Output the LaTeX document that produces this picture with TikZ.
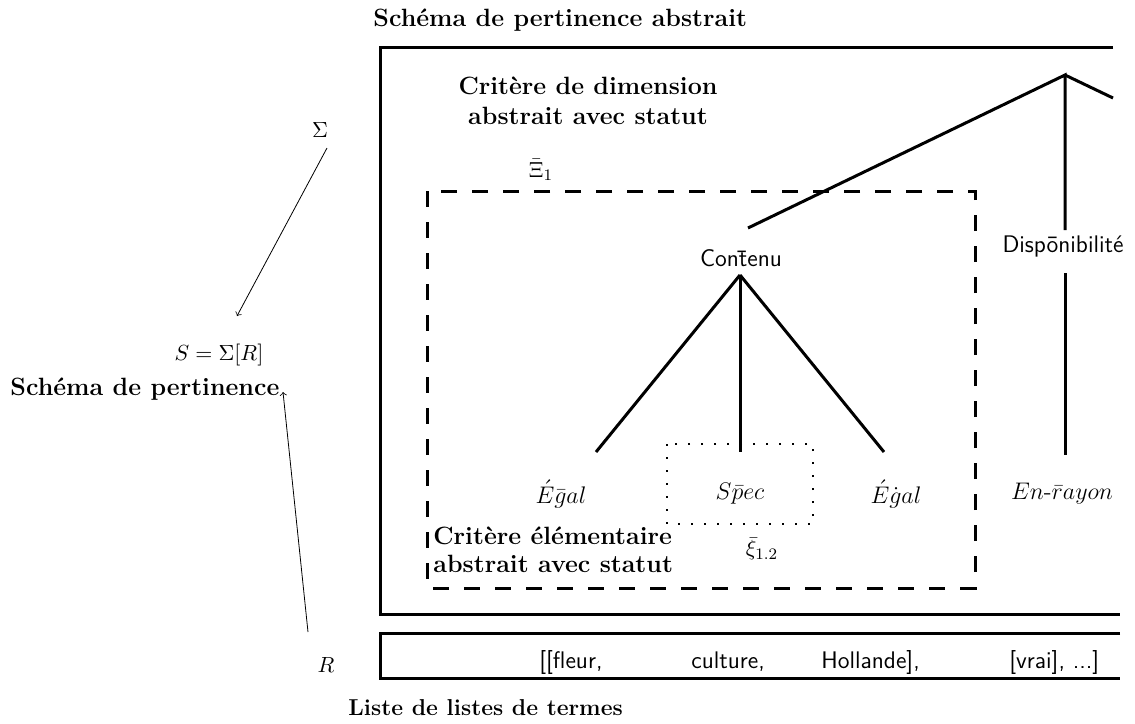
\documentclass[tikz,border=0pt]{standalone}
\usepackage{amsmath}
\begin{document}
\begin{tikzpicture}[x=0.5pt,y=-0.5pt,
  thickline/.style={line width=1.5pt},
  dashbox/.style={line width=1.5pt,dash pattern=on 8pt off 7.5pt},
  dotbox/.style={line width=1pt,dash pattern=on 0.9pt off 5.6pt},
  boldlab/.style={font=\fontsize{12.5}{15}\selectfont\bfseries,inner sep=0pt},
  treelab/.style={font=\large,inner sep=0pt},
  listlab/.style={font=\large\sffamily,inner sep=0pt},
  mathlab/.style={font=\fontsize{11}{13}\selectfont,inner sep=1pt},
  thinarrow/.style={->,line width=0.4pt}]
\useasboundingbox (0,0) rectangle (1135,723);
% labels
\node[boldlab,anchor=west] (tl) at (373,20) {Sch\'ema de pertinence abstrait};
\node[boldlab,align=center] (cd) at (588,101) {Crit\`ere de dimension\\[0pt]abstrait avec statut};
\node[inner sep=0pt,mathlab] (xi1) at (541,170) {$\bar{\Xi}_1$};
\node[boldlab,align=left,anchor=west] (ce) at (433,550) {Crit\`ere \'el\'ementaire\\[-1pt]abstrait avec statut};
\node[inner sep=0pt,mathlab] (xi12) at (762,549) {$\bar{\xi}_{1.2}$};
\node[boldlab,font=\fontsize{11.5}{13}\selectfont\bfseries,anchor=west] (ll) at (348,708) {Liste de listes de termes};
% big boxes
\draw[thickline] (1113,47) -- (380,47) -- (380,614) -- (1120,614);
\draw[thickline] (1120,633) -- (380,633) -- (380,678) -- (1120,678);
\draw[dashbox] (427,191) rectangle (975,588);
\draw[dotbox] (667,444) rectangle (813,524);
% tree
\coordinate (top) at (1065,75);
\coordinate (cont) at (748,228);
\coordinate (dispT) at (1065,230);
\coordinate (off) at (1113,98);
\node[treelab,font=\large\sffamily] (contenu) at (741,258) {Con\={t}enu};
\node[treelab,font=\large\sffamily] (dispo) at (1063,246) {Disp\={o}nibilit\'e};
\coordinate (cbase) at (740,275);
\coordinate (e1) at (596,452);
\coordinate (sp) at (740,452);
\coordinate (e2) at (884,452);
\coordinate (dbase) at (1065,273);
\coordinate (ry) at (1065,455);
\draw[thickline] (cont) -- (top) -- (dispT);
\draw[thickline] (top) -- (off);
\draw[thickline] (cbase) -- (e1);
\draw[thickline] (cbase) -- (sp);
\draw[thickline] (cbase) -- (e2);
\draw[thickline] (dbase) -- (ry);
\node[treelab] (egal1) at (561,494) {$\acute{E}\bar{g}al$};
\node[treelab] (spec) at (740,494) {$S\bar{p}ec$};
\node[treelab] (egal2) at (896,494) {$\acute{E}\dot{g}al$};
\node[treelab] (enr) at (1062,494) {$En\text{-}\bar{r}ayon$};
% list
\node[listlab,anchor=west] (l1) at (539,662) {[[fleur,};
\node[listlab,anchor=west] (l2) at (691,662) {culture,};
\node[listlab,anchor=west] (l3) at (821,662) {Hollande],};
\node[listlab,anchor=west] (l4) at (1009,662) {[vrai], ...]};
% left side
\node[mathlab] (sigma) at (320,130) {$\Sigma$};
\node[mathlab] (S) at (219,355) {$S=\Sigma[R]$};
\node[boldlab,anchor=west] (sp2) at (10,389) {Sch\'ema de pertinence};
\node[mathlab] (R) at (326,665) {$R$};
\coordinate (a1s) at (327,148);
\coordinate (a1e) at (237,316);
\coordinate (a2s) at (308,632);
\coordinate (a2e) at (283,392);
\draw[thinarrow] (a1s) -- (a1e);
\draw[thinarrow] (a2s) -- (a2e);
\end{tikzpicture}
\end{document}
